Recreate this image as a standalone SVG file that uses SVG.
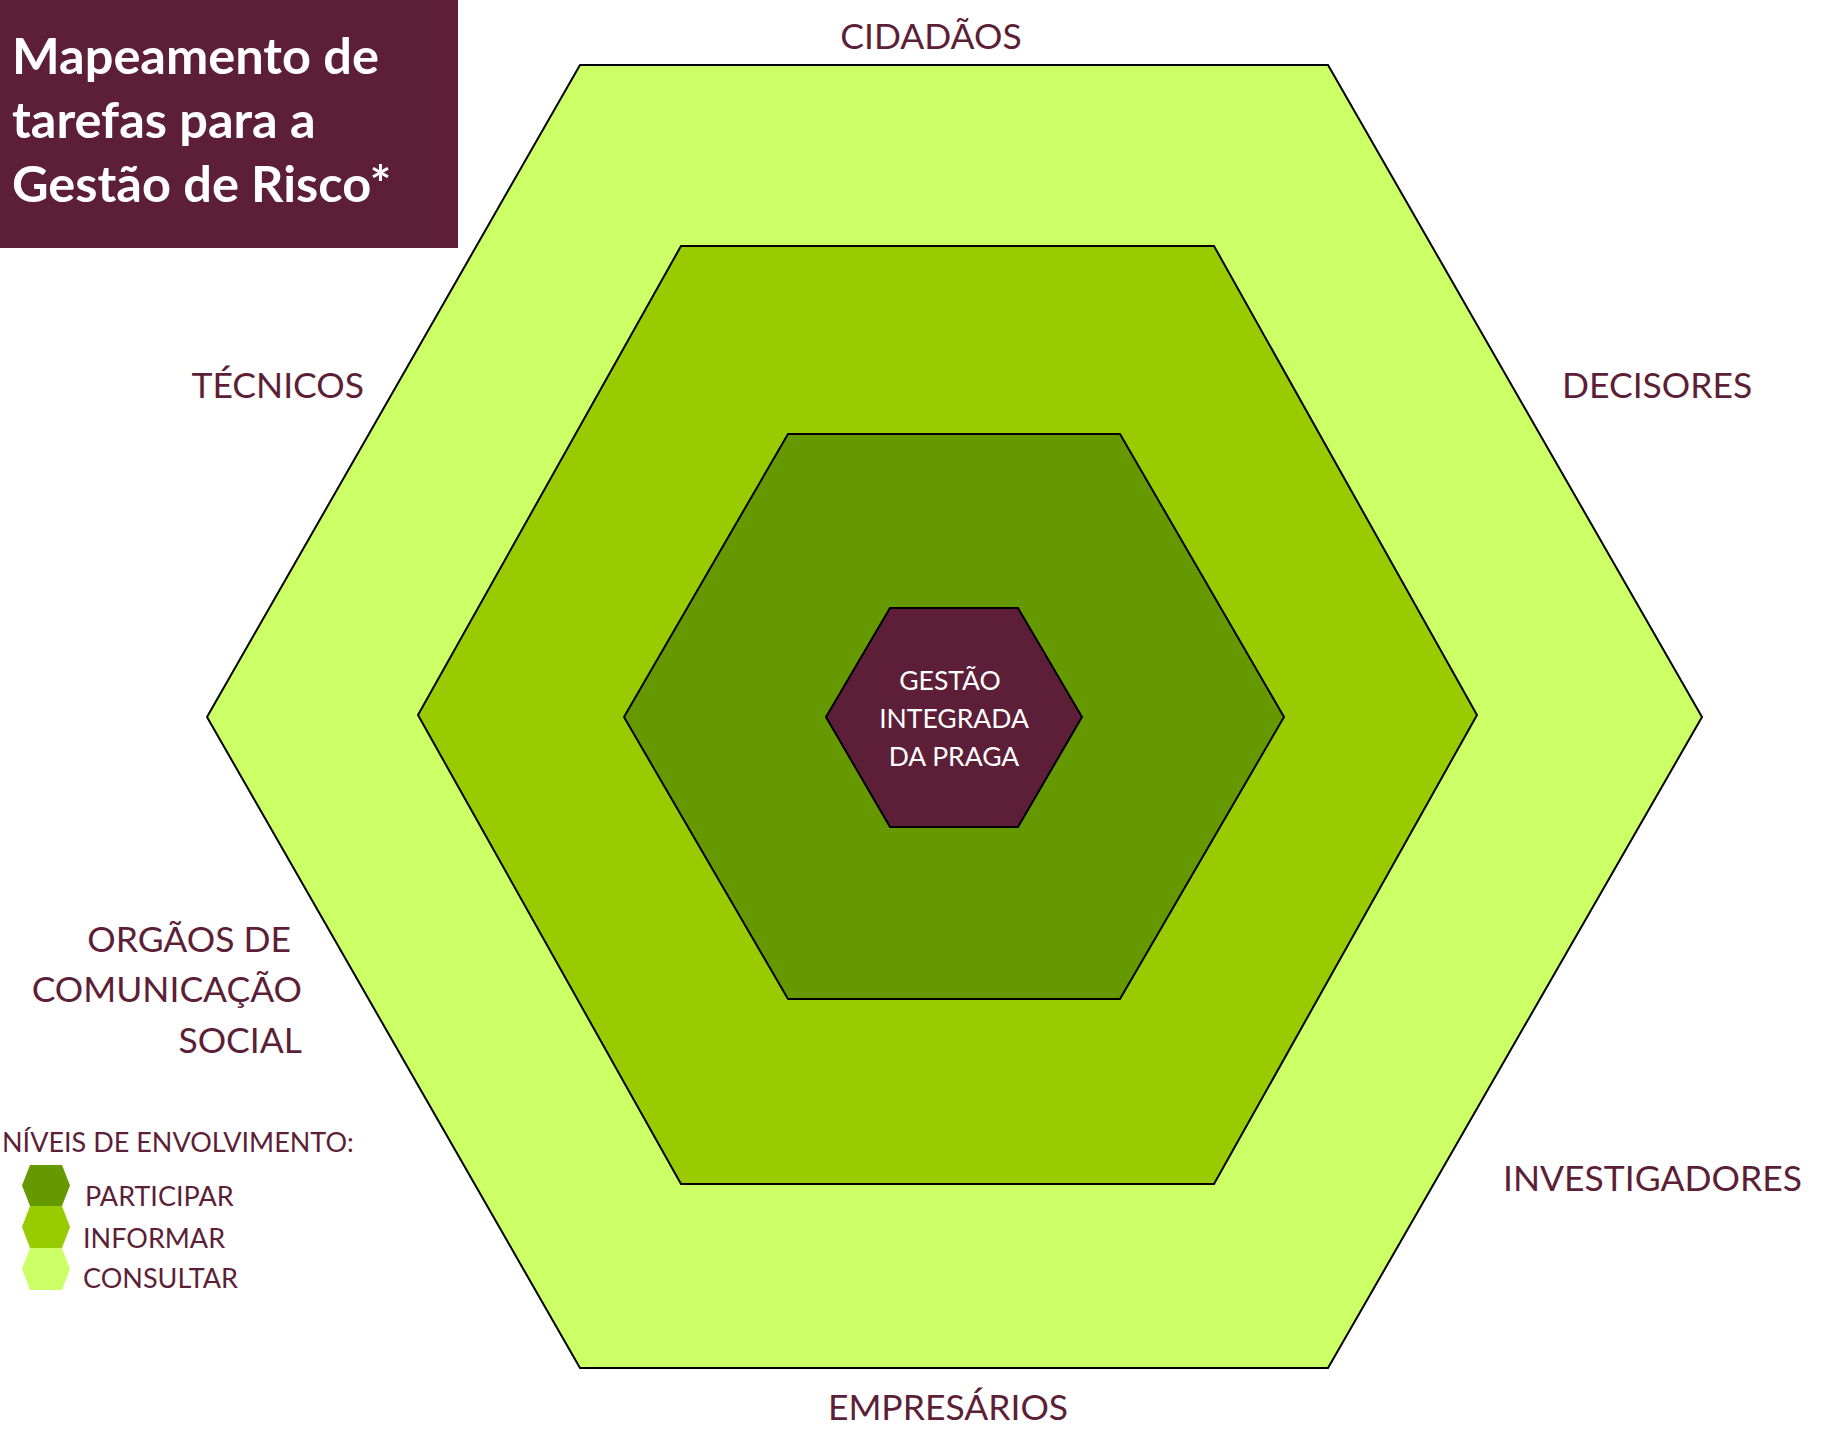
<svg xmlns="http://www.w3.org/2000/svg" width="1825" height="1440" viewBox="0 0 1825 1440">
<style>
.lbl{font-family:Lato,"Liberation Sans",sans-serif;font-size:35.5px;fill:#5D1F37}
.ctr{font-family:Lato,"Liberation Sans",sans-serif;font-size:26.5px;fill:#FFFFFF;text-anchor:middle}
.leg{font-family:Lato,"Liberation Sans",sans-serif;font-size:27px;fill:#5D1F37}
.ttl{font-family:Lato,"Liberation Sans",sans-serif;font-size:50.5px;font-weight:bold;fill:#FFFFFF}
.hex{stroke:#000000;stroke-width:2;stroke-linejoin:miter}
</style>
<rect x="0" y="0" width="1825" height="1440" fill="#FFFFFF"/>
<g id="title">
<rect x="0" y="0" width="458" height="248" fill="#5D1F37"/>
<text class="ttl" x="12" y="74">Mapeamento de</text>
<text class="ttl" x="12" y="138">tarefas para a</text>
<text class="ttl" x="12" y="202">Gestão de Risco*</text>
</g>
<g id="hex-consultar">
<polygon class="hex" fill="#CCFF66" points="580,65 1328,65 1702,717 1328,1368 580,1368 207,717"/>
</g>
<g id="hex-informar">
<polygon class="hex" fill="#99CC00" points="681,246 1214,246 1477,715 1214,1184 681,1184 418,715"/>
</g>
<g id="hex-participar">
<polygon class="hex" fill="#669900" points="788,434 1120,434 1284,717 1120,999 788,999 624,717"/>
</g>
<g id="hex-center">
<polygon class="hex" fill="#5D1F37" points="890,608 1018,608 1082,717 1018,827 890,827 826,717"/>
<text class="ctr" x="950" y="690">GESTÃO</text>
<text class="ctr" x="954" y="728">INTEGRADA</text>
<text class="ctr" x="954" y="766">DA PRAGA</text>
</g>
<g id="labels">
<text class="lbl" x="931" y="49" text-anchor="middle">CIDADÃOS</text>
<text class="lbl" x="364" y="398" text-anchor="end">TÉCNICOS</text>
<text class="lbl" x="1562" y="398">DECISORES</text>
<text class="lbl" x="291" y="952" text-anchor="end">ORGÃOS DE</text>
<text class="lbl" x="302" y="1002" text-anchor="end">COMUNICAÇÃO</text>
<text class="lbl" x="302" y="1053" text-anchor="end">SOCIAL</text>
<text class="lbl" x="1503" y="1191">INVESTIGADORES</text>
<text class="lbl" x="948" y="1420" text-anchor="middle">EMPRESÁRIOS</text>
</g>
<g id="legend">
<text class="leg" x="2" y="1152">NÍVEIS DE ENVOLVIMENTO:</text>
<polygon fill="#669900" points="30,1165 62,1165 70,1185.5 62,1206 30,1206 22,1185.5"/>
<polygon fill="#99CC00" points="30,1206 62,1206 70,1227 62,1248 30,1248 22,1227"/>
<polygon fill="#CCFF66" points="30,1248 62,1248 70,1269 62,1290 30,1290 22,1269"/>
<text class="leg" x="85" y="1206">PARTICIPAR</text>
<text class="leg" x="83" y="1248">INFORMAR</text>
<text class="leg" x="83" y="1288">CONSULTAR</text>
</g>
</svg>
